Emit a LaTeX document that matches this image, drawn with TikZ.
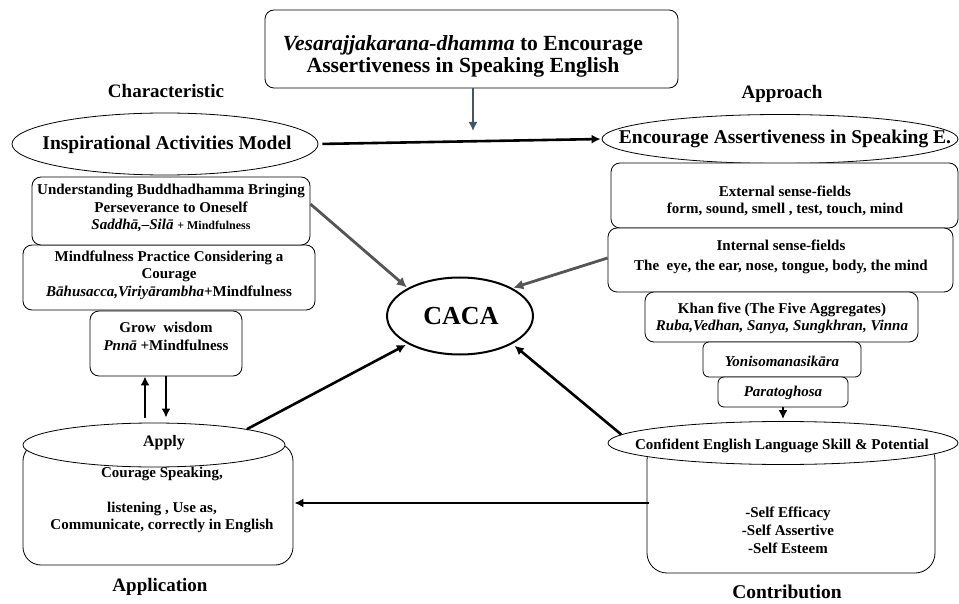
\documentclass[tikz,border=0pt]{standalone}
\usepackage{fontspec}
\setmainfont{Liberation Serif}
\usetikzlibrary{shapes.geometric,arrows.meta,calc}
\definecolor{slate}{RGB}{68,84,106}
\definecolor{arrgray}{RGB}{85,85,85}
\newcommand{\fsz}[2]{\fontsize{#1}{#2}\selectfont\bfseries}
\begin{document}
\begin{tikzpicture}[x=1pt,y=-1pt,
  rbox/.style={draw, rounded corners=9pt, inner sep=0pt, line width=0.8pt, fill=white},
  ell/.style={draw, ellipse, inner sep=0pt, line width=0.8pt, fill=white},
  txt/.style={align=center, inner sep=0pt},
  arr/.style={line width=2.6pt, -{Latex[length=9pt,width=9pt]}},
  garr/.style={line width=2.8pt, draw=arrgray, -{Latex[length=10pt,width=10pt]}, fill=arrgray},
  sarr/.style={line width=2.6pt, draw=slate, -{Latex[length=9pt,width=9pt]}, fill=slate}]
\useasboundingbox (0,0) rectangle (959,604);

% top title box
\node[rbox, minimum width=413pt, minimum height=78pt] (top) at (471.5,49) {};
\node[txt, font=\fsz{21.6}{22}] (topt) at (463,56) {{\itshape Vesarajjakarana-dhamma} to Encourage\\Assertiveness in Speaking English};

% section labels
\node[txt, font=\fsz{19}{22}] (char) at (166,91) {Characteristic};
\node[txt, font=\fsz{19}{22}] (appr) at (782,94) {Approach};
\node[txt, font=\fsz{19}{22}] (appl) at (160,587) {Application};
\node[txt, font=\fsz{19.5}{22}] (contr) at (787,592) {Contribution};

% left column
\node[ell, minimum width=306pt, minimum height=62pt] (iam) at (165,144) {};
\node[txt, font=\fsz{19.5}{22}] (iamt) at (167,145) {Inspirational Activities Model};
\node[rbox, minimum width=292pt, minimum height=65pt] (L2) at (169,277.5) {};
\node[txt, font=\fsz{15}{17.5}] (L2t) at (169,275) {Mindfulness Practice Considering a\\Courage\\{\itshape B\=ahusacca,Viriy\=arambha}+Mindfulness};
\node[rbox, minimum width=278pt, minimum height=68pt] (L1) at (171,211) {};
\node[txt, font=\fsz{15}{17.5}] (L1t) at (171,208) {Understanding Buddhadhamma Bringing\\Perseverance to Oneself\\{\itshape Saddh\=a,--Sil\=a} {\fontsize{12}{14}\selectfont + Mindfulness}};
\node[rbox, minimum width=152pt, minimum height=65pt] (L3) at (166,343.5) {};
\node[txt, font=\fsz{15}{18}] (L3t) at (166,336.5) {Grow\ \ wisdom\\{\itshape Pnn\=a} +Mindfulness};

% apply cylinder
\node[rbox, rounded corners=18pt, minimum width=270pt, minimum height=122pt] (applyb) at (158,504) {};
\node[ell, minimum width=262pt, minimum height=44pt] (applye) at (154,445) {};
\node[txt, font=\fsz{16}{18}] (applyt) at (164,443) {Apply};
\node[txt, font=\fsz{15}{17.5}] (applybt) at (162,500) {Courage Speaking,\\[17.5pt]listening , Use as,\\Communicate, correctly in English};

% centre
\node[ell, line width=2pt, minimum width=146pt, minimum height=77pt] (caca) at (460,316) {};
\node[txt, font=\fsz{26}{28}] (cacat) at (461,316) {CACA};

% right column
\node[ell, minimum width=356pt, minimum height=49pt] (eas) at (780,139) {};
\node[txt, font=\fsz{19.5}{22}] (east) at (785,139) {Encourage Assertiveness in Speaking E.};
\node[rbox, minimum width=347pt, minimum height=65pt] (R1) at (784.5,195.5) {};
\node[txt, font=\fsz{15}{17}] (R1t) at (785,201) {External sense-fields\\form, sound, smell , test, touch, mind};
\node[rbox, minimum width=345pt, minimum height=64pt] (R2) at (780.5,260) {};
\node[txt, font=\fsz{15}{20}] (R2t) at (781,257) {Internal sense-fields\\The\ \ eye, the ear, nose, tongue, body, the mind};
\node[rbox, minimum width=273pt, minimum height=50pt] (R3) at (781.5,317) {};
\node[txt, font=\fsz{15}{17}] (R3t) at (782,318.5) {Khan five (The Five Aggregates)\\{\itshape Ruba,Vedhan, Sanya, Sungkhran, Vinna}};
\node[rbox, rounded corners=6pt, minimum width=158pt, minimum height=35pt] (R4) at (782,359.5) {};
\node[txt, font=\fsz{15}{17}\itshape] (R4t) at (782,361) {Yonisomanasik\=ara};
\node[rbox, rounded corners=6pt, minimum width=130pt, minimum height=30pt] (R5) at (783,392) {};
\node[txt, font=\fsz{15}{17}\itshape] (R5t) at (783,393) {Paratoghosa};

% contribution cylinder
\node[rbox, rounded corners=20pt, minimum width=288pt, minimum height=133pt] (contb) at (791,506.5) {};
\node[ell, minimum width=350pt, minimum height=43pt] (conte) at (783,443) {};
\node[txt, font=\fsz{15}{17}] (contet) at (782,446) {Confident English Language Skill \& Potential};
\node[txt, font=\fsz{15}{18}] (contbt) at (788,530) {-Self Efficacy\\-Self Assertive\\-Self Esteem};

% connectors
\coordinate (topend) at (473,131);
\draw[sarr] (top.south -| topend) -- (topend);
\draw[arr, shorten <=4pt, shorten >=1pt] (iam.east) -- (eas.west);
\draw[garr, shorten >=1pt] (L1.east |- 0,204) -- (caca.north west);
\draw[garr, shorten >=1pt] (R2.west |- 0,258) -- (caca.north east);
\draw[arr, shorten >=2pt] (applye.north east) -- (caca.south west);
\draw[arr, shorten >=3pt] (conte.177) -- (caca.south east);
\draw[arr, shorten >=2pt] (R5.south) -- (R5.south |- conte.north);
\coordinate (lev) at (0,503);
\draw[arr, shorten <=-2pt, shorten >=1pt] (contb.west |- lev) -- (applyb.east |- lev);
\draw[arr, shorten >=5pt] (L3.south) -- (L3.south |- applye.north);
\coordinate (upx) at (145,0);
\draw[arr, shorten <=5pt, shorten >=0pt] (upx |- applye.north) -- (upx |- L3.south);
\end{tikzpicture}
\end{document}
